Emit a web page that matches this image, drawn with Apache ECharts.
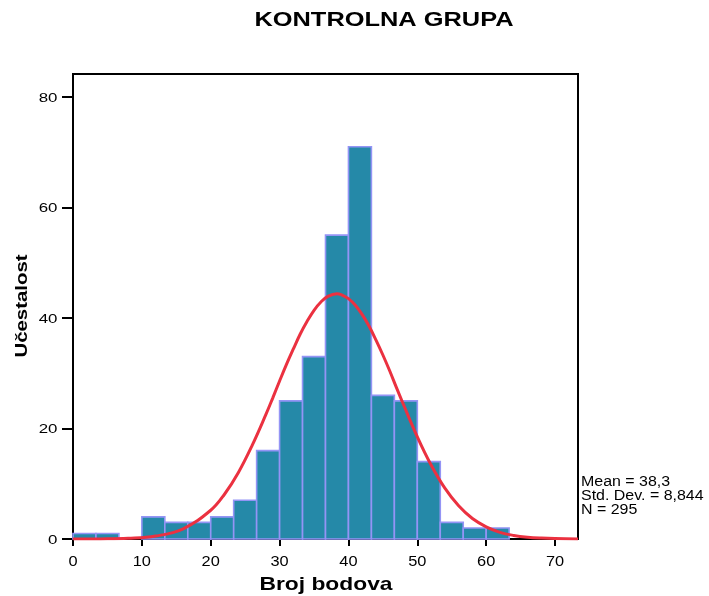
<!DOCTYPE html>
<html>
<head>
<meta charset="utf-8">
<script src="https://cdn.jsdelivr.net/npm/echarts@6/dist/echarts.min.js"></script>
<style>
html,body{margin:0;padding:0;background:#fff;}
#chart{width:709px;height:596px;}
</style>
</head>
<body>
<div id="chart"></div>
<script>
// Histogram bins (lower and upper edges) and frequencies
var binLow  = [0, 3.333, 6.667, 10, 13.333, 16.667, 20, 23.333, 26.667, 30, 33.333, 36.667, 40, 43.333, 46.667, 50, 53.333, 56.667, 60];
var binHigh = [3.333, 6.667, 10, 13.333, 16.667, 20, 23.333, 26.667, 30, 33.333, 36.667, 40, 43.333, 46.667, 50, 53.333, 56.667, 60, 63.333];
var counts  = [1, 1, 0, 4, 3, 3, 4, 7, 16, 25, 33, 55, 71, 26, 25, 14, 3, 2, 2];

// Normal curve points
var curveX = [0, 4, 8, 12, 16, 20, 22, 24, 26, 28, 29, 30, 31, 32, 33, 34, 35, 36, 37, 38.3, 39, 40, 41, 42, 43, 44, 45, 46, 47, 48, 50, 52, 54, 56, 58, 60, 62, 64, 66, 68, 70, 73.33];
var curveY = [0.0, 0.02, 0.12, 0.53, 1.85, 5.2, 8.1, 12.0, 16.9, 22.5, 25.5, 28.6, 31.6, 34.4, 37.1, 39.4, 41.4, 42.9, 43.9, 44.4, 44.2, 43.5, 42.3, 40.6, 38.5, 36.0, 33.3, 30.4, 27.3, 24.3, 18.5, 13.4, 9.2, 6.0, 3.7, 2.2, 1.2, 0.65, 0.33, 0.16, 0.07, 0.02];

// Tick labels
var xTicks = [0, 10, 20, 30, 40, 50, 60, 70];
var yTicks = [0, 20, 40, 60, 80];

var title = 'KONTROLNA GRUPA';
var xName = 'Broj bodova';
var yName = 'Učestalost';
var statsLines = ['Mean = 38,3', 'Std. Dev. = 8,844', 'N = 295'];

var barData = counts.map(function (c, i) { return [binLow[i], binHigh[i], c]; });
var curveData = curveX.map(function (x, i) { return [x, curveY[i]]; });

var FONT = '"Liberation Sans", Arial, sans-serif';
var chart = echarts.init(document.getElementById('chart'), null, {renderer: 'canvas'});
chart.setOption({
  animation: false,
  backgroundColor: '#fff',
  grid: {left: 73, right: 131, top: 74, bottom: 57, show: true, borderColor: '#000', borderWidth: 2, backgroundColor: 'transparent'},
  xAxis: {
    type: 'value', min: 0, max: 73.333, interval: 10,
    axisLine: {show: true, onZero: false, lineStyle: {color: '#000', width: 2}},
    axisTick: {show: true, length: 7, customValues: xTicks, lineStyle: {color: '#000', width: 2}},
    axisLabel: {show: false},
    splitLine: {show: false}
  },
  yAxis: {
    type: 'value', min: 0, max: 84.16, interval: 20,
    axisLine: {show: true, lineStyle: {color: '#000', width: 2}},
    axisTick: {show: true, length: 11, customValues: yTicks, lineStyle: {color: '#000', width: 2}},
    axisLabel: {show: false},
    splitLine: {show: false}
  },
  series: [{
    type: 'custom',
    data: barData,
    encode: {x: [0, 1], y: 2},
    z: 2,
    renderItem: function (params, api) {
      var p0 = api.coord([api.value(0), api.value(2)]);
      var p1 = api.coord([api.value(1), 0]);
      if (api.value(2) <= 0) return null;
      return {
        type: 'rect',
        shape: {x: p0[0], y: p0[1], width: p1[0] - p0[0], height: p1[1] - p0[1]},
        style: {fill: '#2589A8', stroke: '#9494F5', lineWidth: 1.6}
      };
    }
  }, {
    type: 'line',
    data: curveData,
    smooth: 0.4,
    showSymbol: false,
    z: 5,
    lineStyle: {color: '#EB3140', width: 3}
  }]
});

function txt(text, x, y, size, bold, sx, align, rot) {
  return {
    type: 'text', x: x, y: y, scaleX: sx, scaleY: 1, rotation: rot || 0, z: 100,
    style: {
      text: text, font: (bold ? 'bold ' : '') + size + 'px ' + FONT, fill: '#000',
      textAlign: align, textVerticalAlign: 'middle', align: align, verticalAlign: 'middle'
    }
  };
}

var g = [];
g.push(txt(title, 384, 20, 20, true, 1.27, 'center'));
g.push(txt(xName, 326, 585, 19, true, 1.2, 'center'));
g.push(txt(yName, 22, 306, 17, true, 1.2, 'center', Math.PI / 2));
statsLines.forEach(function (s, i) {
  g.push(txt(s, 581, 482.5 + i * 14, 14, false, 1.14, 'left'));
});
xTicks.forEach(function (v) {
  var p = chart.convertToPixel({gridIndex: 0}, [v, 0]);
  g.push(txt(String(v), p[0], 562.5, 14, false, 1.17, 'center'));
});
yTicks.forEach(function (v) {
  var p = chart.convertToPixel({gridIndex: 0}, [0, v]);
  g.push(txt(String(v), 57.5, p[1] + 1, 13.5, false, 1.25, 'right'));
});
chart.setOption({graphic: g});
</script>
</body>
</html>
